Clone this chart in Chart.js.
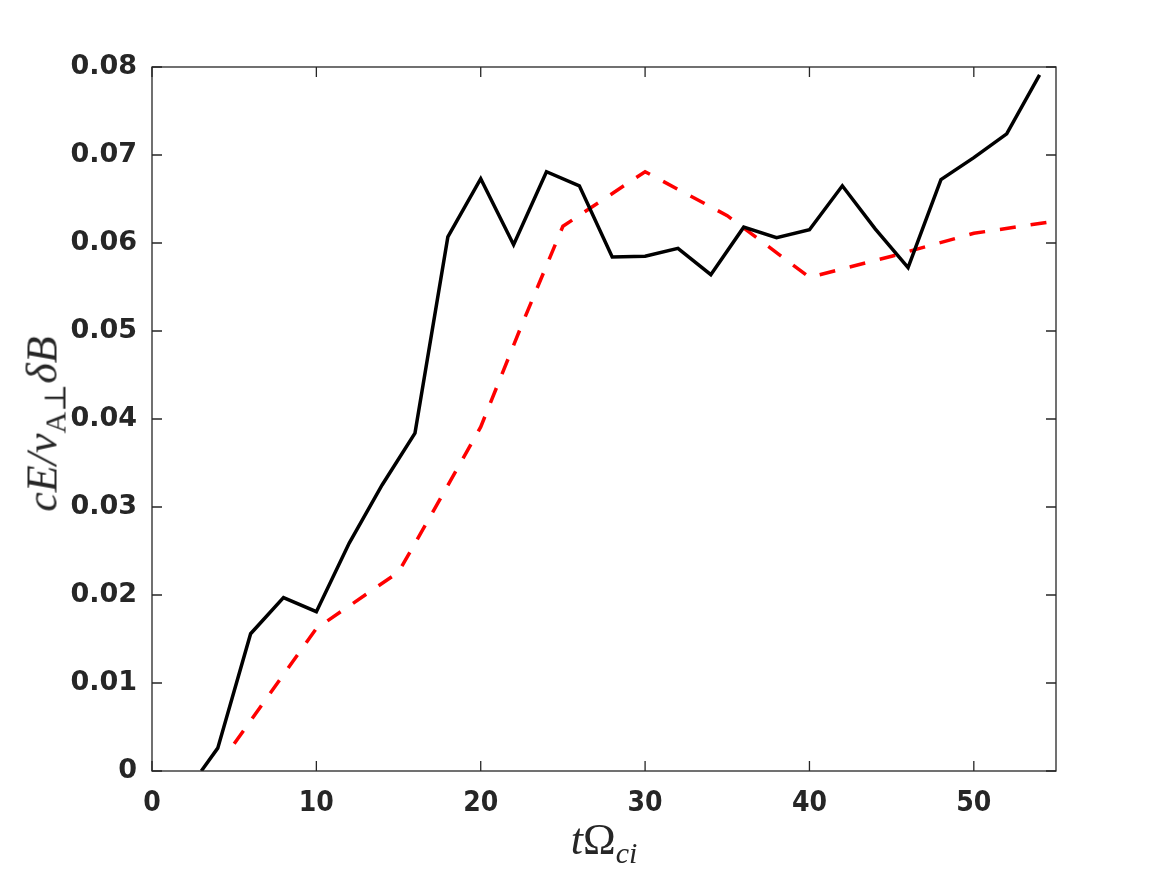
<!DOCTYPE html>
<html>
<head>
<meta charset="utf-8">
<script src="https://cdn.jsdelivr.net/npm/chart.js@4.4.1/dist/chart.umd.min.js"></script>
<style>
    html, body { margin: 0; padding: 0; background: #fff; }
    #wrap { position: relative; width: 1167px; height: 875px; }
    .math { position: absolute; font-family: "Liberation Serif", "DejaVu Serif", serif; font-style: italic; color: #262626; font-size: 44px; white-space: nowrap; }
    .math sub { font-size: 30px; vertical-align: -9px; line-height: 0; }
    .up { font-style: normal; }
    #xTitle { left: 604px; top: 814px; transform: translateX(-50%); }
    #yTitle { left: 42px; top: 424px; transform: translate(-50%, -50%) rotate(-90deg); }
</style>
</head>
<body>
<div id="wrap">
    <canvas id="fieldChart" width="1167" height="875"></canvas>
    <div id="xTitle" class="math">t<span class="up">Ω</span><sub>ci</sub></div>
    <div id="yTitle" class="math">cE/v<sub><span class="up">A⊥</span></sub>δB</div>
</div>
<script>
// simulation (solid black)
const simTimes = [3, 4, 6, 8, 10, 12, 14, 16, 18, 20, 22, 24, 26, 28, 30, 32, 34, 36, 38, 40, 42, 44, 46, 48, 50, 52, 54];
const simValues = [0, 0.0026, 0.0156, 0.0197, 0.0181, 0.0259, 0.0325, 0.0384, 0.0607, 0.0673, 0.0598, 0.0681,
    0.0665, 0.0584, 0.0585, 0.0594, 0.0564, 0.0618, 0.0606, 0.0615, 0.0665, 0.0616, 0.0572, 0.0672, 0.0697, 0.0724, 0.0791];

// model (red dashed)
const modelTimes = [5, 10, 15, 17.5, 20, 22.5, 25, 30, 35, 40, 45, 50, 55];
const modelValues = [0.0031, 0.0162, 0.0226, 0.0308, 0.0391, 0.0507, 0.0619, 0.0681, 0.0631, 0.0561, 0.0585, 0.0611, 0.0625];

const xTicks = [0, 10, 20, 30, 40, 50];
const yTicks = [0, 0.01, 0.02, 0.03, 0.04, 0.05, 0.06, 0.07, 0.08];

const axisColor = '#262626';

function toPoints(xs, ys) {
    return xs.map((x, i) => ({ x: x, y: ys[i] }));
}

// MATLAB style box with inward ticks on all four sides
const boxPlugin = {
    id: 'boxTicks',
    afterDatasetsDraw(chart) {
        const { ctx, chartArea: a, scales } = chart;
        const len = 10;
        ctx.save();
        ctx.strokeStyle = axisColor;
        ctx.lineWidth = 1.3;
        ctx.strokeRect(a.left, a.top, a.right - a.left, a.bottom - a.top);
        ctx.beginPath();
        xTicks.forEach(v => {
            const px = scales.x.getPixelForValue(v);
            ctx.moveTo(px, a.bottom); ctx.lineTo(px, a.bottom - len);
            ctx.moveTo(px, a.top); ctx.lineTo(px, a.top + len);
        });
        yTicks.forEach(v => {
            const py = scales.y.getPixelForValue(v);
            ctx.moveTo(a.left, py); ctx.lineTo(a.left + len, py);
            ctx.moveTo(a.right, py); ctx.lineTo(a.right - len, py);
        });
        ctx.stroke();
        ctx.restore();
    }
};

new Chart(document.getElementById('fieldChart'), {
    type: 'line',
    data: {
        datasets: [
            {
                label: 'simulation',
                data: toPoints(simTimes, simValues),
                borderColor: '#000000',
                borderWidth: 3.5,
                pointRadius: 0,
                tension: 0,
                fill: false
            },
            {
                label: 'model',
                data: toPoints(modelTimes, modelValues),
                borderColor: '#ff0000',
                borderWidth: 3.5,
                borderDash: [16, 15],
                pointRadius: 0,
                tension: 0,
                fill: false
            }
        ]
    },
    options: {
        responsive: false,
        animation: false,
        layout: {
            padding: { left: 0, top: 67, right: 111, bottom: 0 }
        },
        plugins: {
            legend: { display: false },
            tooltip: { enabled: false }
        },
        scales: {
            x: {
                type: 'linear',
                min: 0,
                max: 55,
                afterFit: scale => { scale.height = 104; },
                afterBuildTicks: scale => { scale.ticks = xTicks.map(v => ({ value: v })); },
                grid: { display: false },
                border: { display: false },
                ticks: {
                    padding: 8,
                    color: axisColor,
                    font: { family: 'DejaVu Sans Condensed, DejaVu Sans', weight: 'bold', size: 28 },
                    callback: v => String(v)
                }
            },
            y: {
                min: 0,
                max: 0.08,
                afterFit: scale => { scale.width = 152; },
                afterBuildTicks: scale => { scale.ticks = yTicks.map(v => ({ value: v })); },
                grid: { display: false },
                border: { display: false },
                ticks: {
                    padding: 7,
                    color: axisColor,
                    font: { family: 'DejaVu Sans', weight: 'bold', size: 27 },
                    callback: v => (v === 0 ? '0' : v.toFixed(2))
                }
            }
        }
    },
    plugins: [boxPlugin]
});
</script>
</body>
</html>
